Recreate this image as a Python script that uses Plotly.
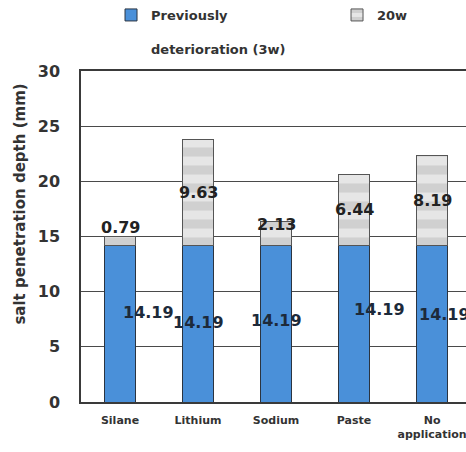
import plotly.graph_objects as go

# Salt penetration depth per surface treatment
categories = ["Silane", "Lithium", "Sodium", "Paste", "No<br>application"]
previous_3w = [14.19, 14.19, 14.19, 14.19, 14.19]
additional_20w = [0.79, 9.63, 2.13, 6.44, 8.19]
y_ticks = [0, 5, 10, 15, 20, 25, 30]

# label nudges (category units / mm) so the labels sit where they read best
low_dx = [0.37, 0.0, 0.0, 0.33, 0.16]
low_dy = [1.0, 0.1, 0.3, 1.3, 0.85]
top_dy = [1.2, 0.0, 0.85, 0.0, 0.0]

BLUE = "#4a90d9"
EDGE = "#2b3440"
TEXT = "#333333"
FONT = "DejaVu Sans"

x = list(range(len(categories)))

fig = go.Figure()
fig.add_trace(go.Bar(
    x=x, y=previous_3w, width=0.4,
    name="Previously<br> <br>deterioration (3w)",
    marker=dict(color=BLUE, line=dict(color=EDGE, width=1)),
    legend="legend",
))
fig.add_trace(go.Bar(
    x=x, y=additional_20w, width=0.4, name="20w",
    marker=dict(
        color="#dcdcdc",
        line=dict(color="#555555", width=1),
        pattern=dict(shape="-", fgcolor="#b9b9b9", bgcolor="#e6e6e6",
                     size=18, solidity=0.5),
    ),
    legend="legend2",
))

annotations = []
for i, (a, b) in enumerate(zip(previous_3w, additional_20w)):
    annotations.append(dict(
        x=i + low_dx[i], y=a / 2 + low_dy[i], xref="x", yref="y",
        text=f"{a:.2f}", showarrow=False,
        font=dict(family=FONT, size=16, color="#1d2a3a", weight="bold"),
    ))
    annotations.append(dict(
        x=i, y=a + b / 2 + top_dy[i], xref="x", yref="y",
        text=f"{b:.2f}", showarrow=False,
        font=dict(family=FONT, size=16, color="#222222", weight="bold"),
    ))

annotations.append(dict(
    x=-0.157, y=0.598, xref="paper", yref="paper",
    xanchor="center", yanchor="middle",
    text="salt penetration depth (mm)", textangle=-90, showarrow=False,
    font=dict(family=FONT, size=15, color=TEXT, weight="bold"),
))

legend_font = dict(family=FONT, size=13, color=TEXT, weight="bold")

fig.update_layout(
    width=466, height=452, autosize=False,
    margin=dict(l=81, r=0, t=71, b=50),
    paper_bgcolor="white", plot_bgcolor="white",
    barmode="stack",
    showlegend=True,
    legend=dict(
        orientation="h", x=0.078, y=1.215, xanchor="left", yanchor="top",
        valign="top", font=legend_font, bgcolor="rgba(0,0,0,0)",
    ),
    legend2=dict(
        orientation="h", x=0.665, y=1.215, xanchor="left", yanchor="top",
        valign="top", font=legend_font, bgcolor="rgba(0,0,0,0)",
    ),
    annotations=annotations,
    font=dict(family=FONT, color=TEXT),
)

fig.update_xaxes(
    range=[-0.5, 4.435], tickvals=x, ticktext=categories,
    showline=True, mirror=True, linecolor="#3a3a3a", linewidth=1.5,
    showgrid=False, zeroline=False, ticks="", ticklabelstandoff=7,
    ticklabeloverflow="allow",
    tickfont=dict(family=FONT, size=11, color=TEXT, weight="bold"),
)
fig.update_yaxes(
    range=[0, 30], tickvals=y_ticks,
    showline=True, mirror=False, linecolor="#3a3a3a", linewidth=1.5,
    showgrid=True, gridcolor="#4a4a4a", gridwidth=1.2, zeroline=False,
    ticks="", ticklabelstandoff=16,
    tickfont=dict(family=FONT, size=16, color=TEXT, weight="bold"),
)

fig.write_html("out.html")
